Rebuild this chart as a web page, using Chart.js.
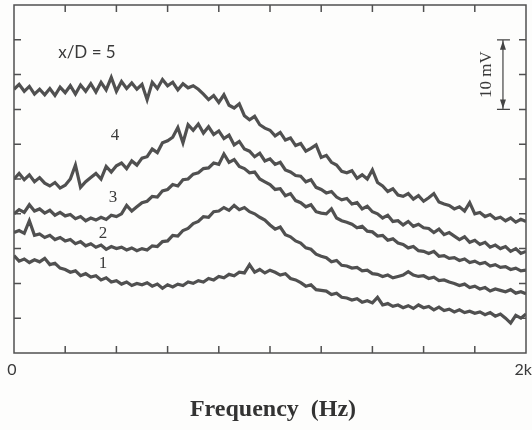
<!DOCTYPE html>
<html>
<head>
<meta charset="utf-8">
<script src="https://cdn.jsdelivr.net/npm/chart.js@4/dist/chart.umd.min.js"></script>
<style>
  html, body { margin: 0; padding: 0; background: #fdfdfc; }
  canvas { display: block; }
</style>
</head>
<body>
<canvas id="spectra" width="532" height="430"></canvas>
<script>
'use strict';

// Sample frequencies (Hz), every 20 Hz from 0 to 2 kHz.
const freq = Array.from({ length: 101 }, (_, i) => i * 20);

// Hot-wire spectra (mV, curves offset vertically), one array per station.
const spec1 = [14.0,13.2,13.5,13.0,13.4,13.1, 13.6,12.7,12.9,12.2,12.0, 11.6,11.8,11.1,11.4,10.9,
  11.1,10.5,10.8,10.2,10.4, 9.9,10.2,9.7,10.0,9.8, 10.1,9.6,9.9,9.3,9.8, 9.5,9.9,9.7,10.2,10.0,
  10.4,10.2,10.7,10.5,11.0, 10.8,11.3,11.1,11.6,11.5, 12.7,11.6,12.0,11.5,11.9, 11.6,11.2,11.4,10.7,10.5,
  10.1,9.6,9.8,9.1,9.0, 8.9,8.4,8.6,8.0,7.9, 7.6,7.8,7.3,7.5,7.2, 8.0,6.9,7.1,6.7,6.9,
  6.5,6.8,6.4,6.9,6.5, 6.7,6.2,6.6,6.1,6.3, 5.9,6.2,5.8,6.0,5.7, 5.9,5.5,5.8,5.3,5.6, 5.0,4.3,5.4,5.0,5.6];
const spec2 = [17.3,17.6,17.2,19.0,16.9,17.1, 16.6,16.9,16.3,16.6,16.1, 16.3,15.7,16.0,15.4,15.7,
  15.2,15.5,14.9,15.3,15.0, 15.2,14.8,15.1,14.7,15.0, 14.8,15.4,15.3,16.0,16.1, 16.9,16.8,17.6,17.9,18.6,
  18.9,19.6,19.5,20.3,20.4, 20.9,20.5,21.2,20.6,20.9, 20.3,20.0,19.5,19.1,18.4, 17.8,18.1,17.0,16.7,16.1,
  15.8,15.1,14.9,14.2,13.9, 13.7,13.1,13.3,12.6,12.5, 12.2,12.3,11.8,11.9,11.4, 11.3,11.0,11.2,10.8,11.0,
  11.2,11.7,11.2,11.0,11.1, 10.7,10.9,10.4,10.5,10.2, 10.0,9.7,9.9,9.4,9.6, 9.2,9.4,8.9,9.2,9.0, 8.8,9.1,8.6,8.8,8.5];
const spec3 = [20.0,20.6,20.2,21.3,20.4,20.7, 20.1,20.5,19.8,20.2,19.7, 19.9,19.3,19.6,19.0,19.4,
  19.1,19.5,19.2,19.8,19.6, 20.0,21.2,20.4,21.0,21.6, 21.8,22.5,22.4,23.3,23.5, 24.2,24.0,24.9,25.0,25.7,
  25.9,26.5,26.6,27.3,27.1, 28.6,27.4,27.8,26.8,26.5, 25.9,26.0,25.0,24.6,24.2, 23.5,23.6,22.6,22.9,21.9,
  21.6,21.0,21.3,20.3,20.1, 20.0,20.7,19.4,19.0,18.8, 18.5,18.0,18.2,17.5,17.4, 16.8,16.9,16.2,16.4,15.8,
  15.6,15.1,15.3,14.7,14.6, 14.3,14.6,13.9,14.0,13.6, 13.7,13.3,13.5,13.0,13.2, 12.8,13.0,12.5,12.7,12.3, 12.4,12.0,12.2,11.8,11.9];
const spec4 = [25.0,25.8,24.9,25.6,24.6,25.2, 24.4,24.0,24.5,23.7,24.1, 25.0,27.0,23.8,24.6,25.2,
  25.8,25.0,26.8,26.0,26.9, 27.3,26.5,27.6,27.0,28.0, 28.2,29.3,28.8,30.2,30.5, 31.0,32.4,30.2,32.8,32.0,
  32.9,31.6,32.5,31.4,31.9, 30.8,31.3,29.9,30.4,29.3, 29.0,28.2,28.7,27.6,27.9, 27.1,27.4,26.3,26.0,25.5,
  25.4,24.6,24.9,23.8,23.5, 23.0,23.2,22.4,22.0,22.2, 21.4,21.6,20.7,21.1,20.3, 20.0,19.4,19.8,18.9,19.0,
  18.4,18.9,18.2,18.5,18.0, 17.9,17.3,17.8,17.0,17.3, 16.8,16.3,16.7,15.9,16.2, 15.6,15.9,15.2,15.5,15.0, 15.3,14.6,15.0,14.3,14.6];
const spec5 = [37.9,38.6,37.6,38.3,37.2,37.9, 37.1,38.0,37.0,38.2,37.4, 38.4,37.2,38.5,37.6,38.7,
  37.5,38.9,37.8,39.6,37.6, 39.0,38.0,38.8,37.9,38.6, 36.4,38.9,38.0,39.3,38.4, 38.9,37.8,38.7,38.1,38.4,
  37.9,37.2,36.4,37.0,36.0, 37.1,35.6,35.2,35.8,34.1, 33.5,34.0,32.8,32.3,32.0, 31.2,31.7,30.6,30.9,29.8,
  30.1,29.0,29.4,29.9,28.1, 28.4,27.4,27.0,26.1,25.9, 26.2,25.1,25.6,25.0,26.3, 24.5,24.0,23.2,23.6,22.7,
  22.5,22.9,22.1,22.6,21.8, 22.3,22.9,21.7,21.4,21.2, 20.7,21.0,20.4,21.6,20.0, 20.2,19.6,19.9,19.3,19.5, 19.0,19.4,18.8,19.2,18.9];

// Curve labels and where they sit (Hz, mV).
const curveLabels = ['1', '2', '3', '4', 'x/D = 5'];
const labelFreq = [348, 348, 387, 395, 285];
const labelLevel = [12.9, 17.1, 22.4, 31.3, 43.2];

// Axis ticks and the 10 mV scale bar.
const freqTicks = [0, 200, 400, 600, 800, 1000, 1200, 1400, 1600, 1800, 2000];
const levelTicks = [0, 5, 10, 15, 20, 25, 30, 35, 40, 45, 50];
const scaleBar = { freq: 1910, from: 35, to: 45, text: '10 mV', textFreq: 1846 };

const INK = '#505050';

function series(values) {
    return freq.map((f, i) => ({ x: f, y: values[i] }));
}

// Boxed frame with inward ticks, labels and the scale bar.
const framePlugin = {
    id: 'frame',
    afterDraw(chart) {
        const ctx = chart.ctx;
        const area = chart.chartArea;
        const xs = chart.scales.x;
        const ys = chart.scales.y;
        const tick = 7;

        ctx.save();
        ctx.strokeStyle = INK;
        ctx.lineWidth = 1.5;
        ctx.strokeRect(area.left, area.top, area.right - area.left, area.bottom - area.top);

        ctx.beginPath();
        freqTicks.slice(1, -1).forEach(f => {
            const px = xs.getPixelForValue(f);
            ctx.moveTo(px, area.top); ctx.lineTo(px, area.top + tick);
            ctx.moveTo(px, area.bottom); ctx.lineTo(px, area.bottom - tick);
        });
        levelTicks.slice(1, -1).forEach(v => {
            const py = ys.getPixelForValue(v);
            ctx.moveTo(area.left, py); ctx.lineTo(area.left + tick, py);
            ctx.moveTo(area.right, py); ctx.lineTo(area.right - tick, py);
        });
        ctx.stroke();

        // frequency labels
        ctx.fillStyle = '#3a3a3a';
        ctx.font = '16px Lato, "Open Sans", sans-serif';
        ctx.textBaseline = 'middle';
        ctx.textAlign = 'center';
        ctx.fillText('0', xs.getPixelForValue(0) - 2, area.bottom + 17);
        ctx.textAlign = 'right';
        ctx.fillText('2k', chart.width, area.bottom + 17);

        ctx.textAlign = 'center';
        ctx.fillStyle = '#333';
        ctx.font = 'bold 24px "Liberation Serif", "Times New Roman", serif';
        ctx.fillText('Frequency  (Hz)', (area.left + area.right) / 2 + 3, 410);

        // curve labels
        ctx.fillStyle = '#3a3a3a';
        curveLabels.forEach((t, i) => {
            const sans = t.length > 1;
            ctx.font = sans ? '17px Lato, "Open Sans", sans-serif' : '17px "Liberation Serif", serif';
            ctx.fillText(t, xs.getPixelForValue(labelFreq[i]), ys.getPixelForValue(labelLevel[i]));
        });

        // 10 mV scale bar
        const bx = xs.getPixelForValue(scaleBar.freq);
        const y0 = ys.getPixelForValue(scaleBar.to);
        const y1 = ys.getPixelForValue(scaleBar.from);
        ctx.strokeStyle = '#444';
        ctx.lineWidth = 1.2;
        ctx.beginPath();
        ctx.moveTo(bx, y0); ctx.lineTo(bx, y1);
        ctx.moveTo(bx - 6, y0); ctx.lineTo(bx + 7, y0);
        ctx.moveTo(bx - 6, y1); ctx.lineTo(bx + 7, y1);
        ctx.stroke();
        ctx.fillStyle = '#444';
        ctx.beginPath();
        ctx.moveTo(bx, y0 + 1); ctx.lineTo(bx - 3, y0 + 10); ctx.lineTo(bx + 3, y0 + 10);
        ctx.moveTo(bx, y1 - 1); ctx.lineTo(bx - 3, y1 - 10); ctx.lineTo(bx + 3, y1 - 10);
        ctx.fill();

        ctx.save();
        ctx.translate(xs.getPixelForValue(scaleBar.textFreq), (y0 + y1) / 2);
        ctx.rotate(-Math.PI / 2);
        ctx.fillStyle = '#3a3a3a';
        ctx.font = '17px "Liberation Serif", serif';
        ctx.fillText(scaleBar.text, 0, 0);
        ctx.restore();

        ctx.restore();
    }
};

function drawSpectra() {
    const ctx = document.getElementById('spectra');
    const data = [spec1, spec2, spec3, spec4, spec5];

    const config = {
        type: 'line',
        data: {
            datasets: data.map((values, i) => ({
                label: curveLabels[i],
                data: series(values),
                borderColor: INK,
                borderWidth: 3.2,
                pointRadius: 0,
                tension: 0,
                fill: false
            }))
        },
        options: {
            responsive: false,
            animation: false,
            layout: { padding: { left: 14, top: 5, right: 6, bottom: 77 } },
            scales: {
                x: { type: 'linear', min: 0, max: 2000, display: false },
                y: { type: 'linear', min: 0, max: 50, display: false }
            },
            plugins: {
                legend: { display: false },
                tooltip: { enabled: false }
            }
        },
        plugins: [framePlugin]
    };

    new Chart(ctx, config);
}

drawSpectra();
</script>
</body>
</html>
